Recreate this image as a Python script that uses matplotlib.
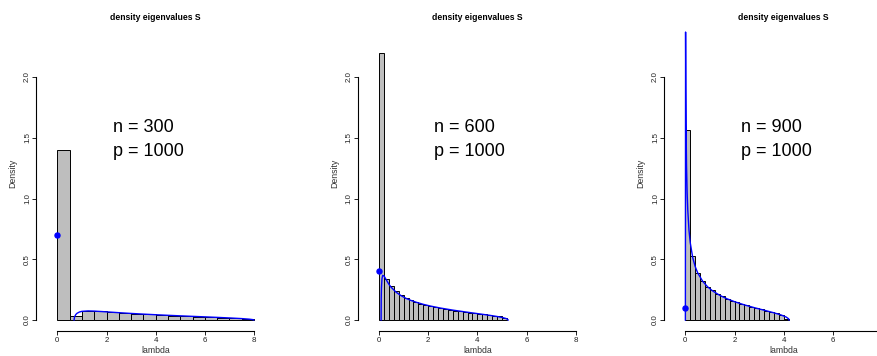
import numpy as np
import matplotlib
matplotlib.use('Agg')
import matplotlib.pyplot as plt

plt.rcParams['font.family'] = ['Liberation Sans', 'DejaVu Sans']

# sample sizes, dimension fixed
n_vals = [300, 600, 900]
p_dim = 1000

# histogram of eigenvalues of S (breaks + density)
breaks_300 = np.arange(0, 8.01, 0.5)
dens_300 = [1.40, 0.033, 0.073, 0.070, 0.066, 0.058, 0.052, 0.046, 0.041,
            0.037, 0.032, 0.028, 0.024, 0.020, 0.015, 0.008]

breaks_600 = np.arange(0, 5.21, 0.2)
dens_600 = [2.20, 0.335, 0.280, 0.235, 0.205, 0.180, 0.165, 0.148, 0.135,
            0.124, 0.112, 0.108, 0.098, 0.090, 0.085, 0.078, 0.072, 0.068,
            0.060, 0.056, 0.048, 0.046, 0.038, 0.031, 0.033, 0.018]

breaks_900 = np.arange(0, 4.21, 0.2)
dens_900 = [1.565, 0.525, 0.390, 0.325, 0.272, 0.245, 0.215, 0.195, 0.172,
            0.160, 0.145, 0.133, 0.120, 0.108, 0.098, 0.087, 0.078, 0.066,
            0.055, 0.045, 0.010]

# Marchenko-Pastur density (continuous part)
mp_x_300 = [0.682, 0.70, 0.75, 0.80, 0.90, 1.0, 1.25, 1.5, 2.0, 2.5, 3.0, 3.5,
            4.0, 4.5, 5.0, 5.5, 6.0, 6.5, 7.0, 7.5, 7.8, 7.95, 7.985]
mp_y_300 = [0.0, 0.0245, 0.0446, 0.0549, 0.0659, 0.0712, 0.0747, 0.0733,
            0.0671, 0.0603, 0.0541, 0.0485, 0.0434, 0.0387, 0.0343, 0.0300,
            0.0259, 0.0216, 0.0170, 0.0116, 0.0070, 0.0030, 0.0]

mp_x_600 = [0.0847, 0.09, 0.10, 0.12, 0.15, 0.20, 0.30, 0.40, 0.50, 0.70,
            0.90, 1.1, 1.3, 1.5, 1.8, 2.1, 2.5, 3.0, 3.5, 4.0, 4.5, 4.8,
            5.0, 5.15, 5.22, 5.2486]
mp_y_600 = [0.0, 0.176, 0.268, 0.339, 0.367, 0.364, 0.329, 0.295, 0.268,
            0.228, 0.200, 0.178, 0.161, 0.147, 0.129, 0.1145, 0.0984, 0.0815,
            0.0667, 0.0528, 0.0386, 0.0289, 0.0211, 0.0131, 0.0070, 0.0]

mp_x_900 = [0.003, 0.0115, 0.02, 0.03, 0.05, 0.075, 0.10, 0.15, 0.20, 0.30,
            0.40, 0.50, 0.70, 0.90, 1.1, 1.4, 1.7, 2.0, 2.4, 2.8, 3.2, 3.6,
            3.9, 4.1, 4.2, 4.2193]
mp_y_900 = [0.0, 2.37, 1.918, 1.609, 1.269, 1.044, 0.906, 0.739, 0.6375,
            0.515, 0.441, 0.3895, 0.3205, 0.2746, 0.2409, 0.2031, 0.1742,
            0.1508, 0.1246, 0.1019, 0.0808, 0.0594, 0.0410, 0.0244, 0.0097, 0.0]

# point mass at zero: 1 - n/p
mass0 = [0.7, 0.4, 0.1]

# x ticks per panel (last panel runs off the right edge)
xticks = [[0, 2, 4, 6, 8], [0, 2, 4, 6, 8], [0, 2, 4, 6]]

W, H = 877, 356
fig = plt.figure(figsize=(W / 100, H / 100), dpi=100)

panel_left = [36, 357.7, 664]
ax_w = 239.4
ax_bottom, ax_h = 25, 306


def draw_panel(ax, breaks, dens, cx, cy, m0, n, xt):
    ax.bar(breaks[:-1], dens, width=np.diff(breaks), align='edge',
           color='#bebebe', edgecolor='black', linewidth=0.7)
    ax.plot(cx, cy, color='blue', lw=1.0)
    ax.plot([0], [m0], 'o', color='blue', ms=3.6)

    ax.set_xlim(-0.866, 8.866)
    ax.set_ylim(-0.0905, 2.428)
    for s in ['top', 'right']:
        ax.spines[s].set_visible(False)
    ax.spines['left'].set_bounds(0, 2)
    ax.spines['bottom'].set_bounds(0, 8)
    for s in ['left', 'bottom']:
        ax.spines[s].set_linewidth(0.8)

    ax.set_xticks(xt)
    ax.set_yticks([0, 0.5, 1, 1.5, 2])
    ax.set_yticklabels(['0.0', '0.5', '1.0', '1.5', '2.0'], rotation=90, va='center')
    ax.tick_params(length=3, width=0.7, labelsize=5.7, colors='#222222')
    ax.tick_params(axis='x', pad=1.2)
    ax.tick_params(axis='y', pad=0.6)

    ax.text(0.5, 1.026, 'density eigenvalues S', transform=ax.transAxes,
            ha='center', va='center', fontsize=6.2, fontweight='bold')
    ax.text(-0.097, 0.515, 'Density', transform=ax.transAxes, rotation=90,
            ha='center', va='center', fontsize=6.3, color='#333333')
    ax.text(0.5, -0.064, 'lambda', transform=ax.transAxes,
            ha='center', va='center', fontsize=6.3, color='#333333')

    ax.text(2.25, 1.545, 'n = %d' % n, fontsize=13, va='baseline')
    ax.text(2.25, 1.352, 'p = %d' % p_dim, fontsize=13, va='baseline')


data = [(breaks_300, dens_300, mp_x_300, mp_y_300),
        (breaks_600, dens_600, mp_x_600, mp_y_600),
        (breaks_900, dens_900, mp_x_900, mp_y_900)]

for i in range(3):
    ax = fig.add_axes([panel_left[i] / W, ax_bottom / H, ax_w / W, ax_h / H])
    b, d, cx, cy = data[i]
    draw_panel(ax, b, d, cx, cy, mass0[i], n_vals[i], xticks[i])

fig.savefig('out.png', dpi=100)
